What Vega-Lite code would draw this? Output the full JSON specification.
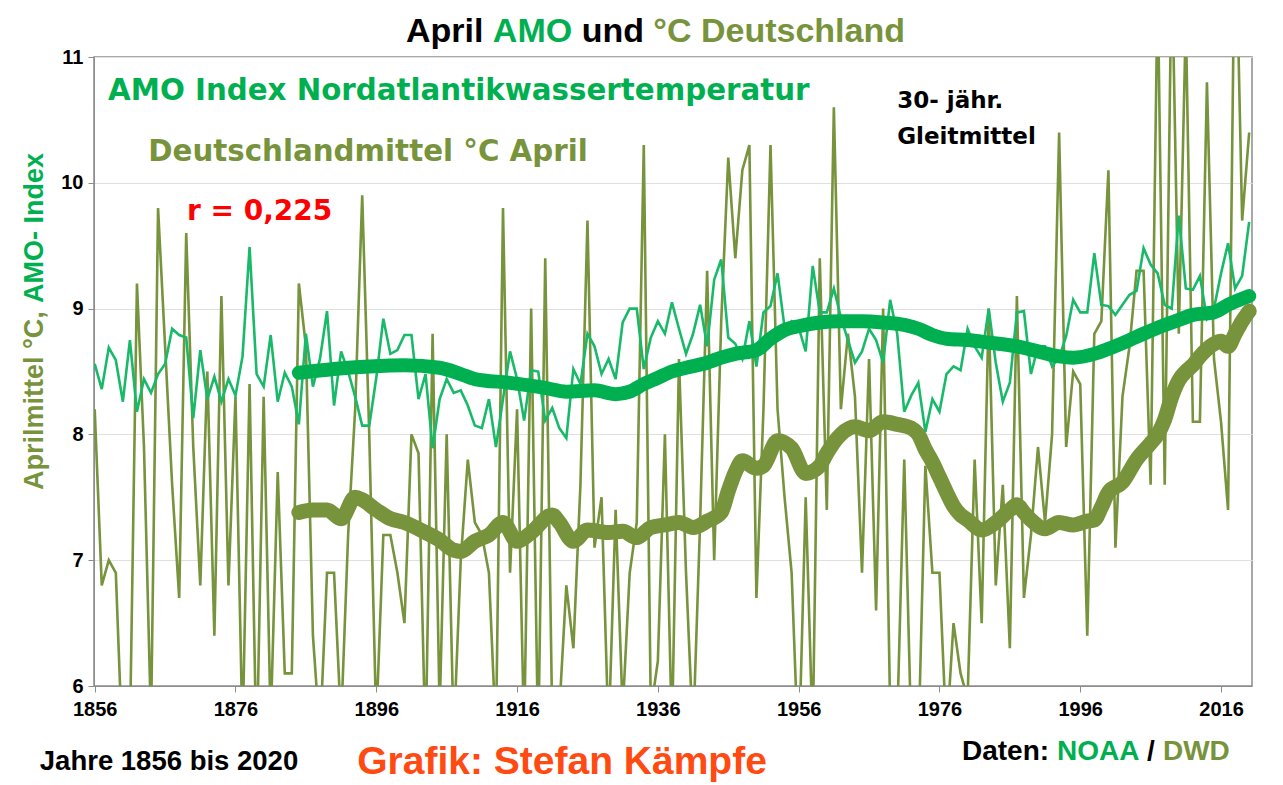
{
  "$schema": "https://vega.github.io/schema/vega-lite/v6.json",
  "width": 1158,
  "height": 629,
  "autosize": {"type": "none"},
  "padding": {"left": 94, "top": 57, "right": 31, "bottom": 99},
  "background": "white",
  "config": {
    "view": {"stroke": "#8c8c8c", "strokeWidth": 1.5},
    "font": "Liberation Sans",
    "axis": {"title": null, "domainColor": "#8c8c8c", "tickColor": "#8c8c8c", "tickSize": 6,
             "labelFont": "Liberation Sans", "labelFontWeight": "bold", "labelFontSize": 20, "labelColor": "#000000"},
    "axisX": {"grid": false, "labelPadding": 7, "labelFlush": false},
    "axisY": {"grid": true, "gridColor": "#e0e0e0", "labelPadding": 5}
  },
  "datasets": {
    "annual": [
      {"year":1856,"dwd":8.2,"amo":8.56},{"year":1857,"dwd":6.8,"amo":8.36},{"year":1858,"dwd":7.0,"amo":8.69},{"year":1859,"dwd":6.9,"amo":8.59},
      {"year":1860,"dwd":5.4,"amo":8.26},{"year":1861,"dwd":5.6,"amo":8.75},{"year":1862,"dwd":9.2,"amo":8.18},{"year":1863,"dwd":7.9,"amo":8.44},
      {"year":1864,"dwd":5.7,"amo":8.33},{"year":1865,"dwd":9.8,"amo":8.48},{"year":1866,"dwd":8.7,"amo":8.56},{"year":1867,"dwd":7.6,"amo":8.84},
      {"year":1868,"dwd":6.7,"amo":8.79},{"year":1869,"dwd":9.6,"amo":8.77},{"year":1870,"dwd":7.9,"amo":8.13},{"year":1871,"dwd":6.8,"amo":8.67},
      {"year":1872,"dwd":8.5,"amo":8.28},{"year":1873,"dwd":6.4,"amo":8.46},{"year":1874,"dwd":9.1,"amo":8.26},{"year":1875,"dwd":6.8,"amo":8.44},
      {"year":1876,"dwd":8.3,"amo":8.31},{"year":1877,"dwd":5.6,"amo":8.62},{"year":1878,"dwd":8.4,"amo":9.49},{"year":1879,"dwd":5.4,"amo":8.48},
      {"year":1880,"dwd":8.3,"amo":8.38},{"year":1881,"dwd":5.7,"amo":8.79},{"year":1882,"dwd":7.7,"amo":8.26},{"year":1883,"dwd":6.1,"amo":8.49},
      {"year":1884,"dwd":6.1,"amo":8.38},{"year":1885,"dwd":9.2,"amo":8.08},{"year":1886,"dwd":8.7,"amo":8.8},{"year":1887,"dwd":6.4,"amo":8.38},
      {"year":1888,"dwd":5.6,"amo":8.6},{"year":1889,"dwd":6.9,"amo":8.98},{"year":1890,"dwd":6.9,"amo":8.23},{"year":1891,"dwd":5.7,"amo":8.66},
      {"year":1892,"dwd":7.2,"amo":8.5},{"year":1893,"dwd":8.2,"amo":8.3},{"year":1894,"dwd":9.9,"amo":8.07},{"year":1895,"dwd":8.0,"amo":8.07},
      {"year":1896,"dwd":5.7,"amo":8.45},{"year":1897,"dwd":7.2,"amo":8.92},{"year":1898,"dwd":7.2,"amo":8.64},{"year":1899,"dwd":6.9,"amo":8.67},
      {"year":1900,"dwd":6.5,"amo":8.79},{"year":1901,"dwd":8.0,"amo":8.79},{"year":1902,"dwd":7.85,"amo":8.28},{"year":1903,"dwd":5.5,"amo":8.48},
      {"year":1904,"dwd":8.8,"amo":7.89},{"year":1905,"dwd":5.8,"amo":8.28},{"year":1906,"dwd":8.0,"amo":8.44},{"year":1907,"dwd":5.6,"amo":8.33},
      {"year":1908,"dwd":7.0,"amo":8.35},{"year":1909,"dwd":7.8,"amo":8.23},{"year":1910,"dwd":7.3,"amo":8.07},{"year":1911,"dwd":7.2,"amo":8.05},
      {"year":1912,"dwd":6.9,"amo":8.28},{"year":1913,"dwd":5.6,"amo":7.9},{"year":1914,"dwd":9.8,"amo":8.28},{"year":1915,"dwd":6.9,"amo":8.66},
      {"year":1916,"dwd":8.2,"amo":8.44},{"year":1917,"dwd":5.6,"amo":8.11},{"year":1918,"dwd":9.0,"amo":8.51},{"year":1919,"dwd":5.5,"amo":8.5},
      {"year":1920,"dwd":9.4,"amo":8.11},{"year":1921,"dwd":5.7,"amo":8.21},{"year":1922,"dwd":5.8,"amo":8.05},{"year":1923,"dwd":6.8,"amo":7.97},
      {"year":1924,"dwd":6.3,"amo":8.52},{"year":1925,"dwd":7.6,"amo":8.4},{"year":1926,"dwd":9.7,"amo":8.8},{"year":1927,"dwd":7.1,"amo":8.7},
      {"year":1928,"dwd":7.5,"amo":8.48},{"year":1929,"dwd":5.6,"amo":8.6},{"year":1930,"dwd":7.4,"amo":8.44},{"year":1931,"dwd":5.8,"amo":8.89},
      {"year":1932,"dwd":6.9,"amo":9.0},{"year":1933,"dwd":7.3,"amo":9.0},{"year":1934,"dwd":10.3,"amo":8.52},{"year":1935,"dwd":5.8,"amo":8.77},
      {"year":1936,"dwd":6.2,"amo":8.9},{"year":1937,"dwd":8.0,"amo":8.8},{"year":1938,"dwd":5.6,"amo":9.05},{"year":1939,"dwd":8.6,"amo":8.84},
      {"year":1940,"dwd":6.9,"amo":8.64},{"year":1941,"dwd":5.6,"amo":8.8},{"year":1942,"dwd":7.3,"amo":9.03},{"year":1943,"dwd":9.3,"amo":8.7},
      {"year":1944,"dwd":7.0,"amo":9.23},{"year":1945,"dwd":8.9,"amo":9.39},{"year":1946,"dwd":10.2,"amo":8.77},{"year":1947,"dwd":9.4,"amo":8.72},
      {"year":1948,"dwd":10.1,"amo":8.6},{"year":1949,"dwd":10.3,"amo":8.9},{"year":1950,"dwd":6.7,"amo":8.54},{"year":1951,"dwd":8.2,"amo":8.97},
      {"year":1952,"dwd":10.3,"amo":9.02},{"year":1953,"dwd":8.2,"amo":9.28},{"year":1954,"dwd":7.5,"amo":8.85},{"year":1955,"dwd":6.9,"amo":8.9},
      {"year":1956,"dwd":5.4,"amo":8.85},{"year":1957,"dwd":7.5,"amo":8.66},{"year":1958,"dwd":5.6,"amo":9.34},{"year":1959,"dwd":9.4,"amo":8.97},
      {"year":1960,"dwd":7.4,"amo":8.97},{"year":1961,"dwd":10.6,"amo":9.16},{"year":1962,"dwd":8.2,"amo":8.93},{"year":1963,"dwd":8.8,"amo":8.75},
      {"year":1964,"dwd":8.3,"amo":8.57},{"year":1965,"dwd":6.9,"amo":8.66},{"year":1966,"dwd":8.6,"amo":8.84},{"year":1967,"dwd":6.6,"amo":8.75},
      {"year":1968,"dwd":9.0,"amo":8.57},{"year":1969,"dwd":5.8,"amo":9.07},{"year":1970,"dwd":5.7,"amo":8.8},{"year":1971,"dwd":7.8,"amo":8.18},
      {"year":1972,"dwd":5.6,"amo":8.31},{"year":1973,"dwd":5.5,"amo":8.41},{"year":1974,"dwd":7.75,"amo":8.02},{"year":1975,"dwd":6.9,"amo":8.28},
      {"year":1976,"dwd":6.9,"amo":8.18},{"year":1977,"dwd":5.6,"amo":8.48},{"year":1978,"dwd":6.5,"amo":8.54},{"year":1979,"dwd":6.1,"amo":8.51},
      {"year":1980,"dwd":5.9,"amo":8.84},{"year":1981,"dwd":7.8,"amo":8.7},{"year":1982,"dwd":6.5,"amo":8.61},{"year":1983,"dwd":9.0,"amo":9.0},
      {"year":1984,"dwd":6.8,"amo":8.57},{"year":1985,"dwd":7.6,"amo":8.26},{"year":1986,"dwd":6.3,"amo":8.41},{"year":1987,"dwd":9.1,"amo":8.97},
      {"year":1988,"dwd":6.7,"amo":8.98},{"year":1989,"dwd":7.2,"amo":8.48},{"year":1990,"dwd":7.9,"amo":8.7},{"year":1991,"dwd":7.3,"amo":8.7},
      {"year":1992,"dwd":8.0,"amo":8.54},{"year":1993,"dwd":10.4,"amo":8.61},{"year":1994,"dwd":7.9,"amo":8.78},{"year":1995,"dwd":8.5,"amo":9.07},
      {"year":1996,"dwd":8.4,"amo":8.97},{"year":1997,"dwd":6.4,"amo":8.97},{"year":1998,"dwd":8.8,"amo":9.44},{"year":1999,"dwd":8.9,"amo":9.03},
      {"year":2000,"dwd":10.1,"amo":9.02},{"year":2001,"dwd":7.1,"amo":8.95},{"year":2002,"dwd":8.3,"amo":9.03},{"year":2003,"dwd":8.7,"amo":9.11},
      {"year":2004,"dwd":9.3,"amo":9.14},{"year":2005,"dwd":9.3,"amo":9.48},{"year":2006,"dwd":7.6,"amo":9.35},{"year":2007,"dwd":11.6,"amo":9.28},
      {"year":2008,"dwd":7.6,"amo":9.03},{"year":2009,"dwd":11.8,"amo":9.0},{"year":2010,"dwd":8.8,"amo":9.74},{"year":2011,"dwd":11.3,"amo":9.16},
      {"year":2012,"dwd":8.1,"amo":9.15},{"year":2013,"dwd":8.1,"amo":9.26},{"year":2014,"dwd":10.8,"amo":8.92},{"year":2015,"dwd":8.6,"amo":9.0},
      {"year":2016,"dwd":8.1,"amo":9.28},{"year":2017,"dwd":7.4,"amo":9.52},{"year":2018,"dwd":12.3,"amo":9.16},{"year":2019,"dwd":9.7,"amo":9.26},
      {"year":2020,"dwd":10.4,"amo":9.69}
    ],
    "maDwd": [
      {"year":1885,"v":7.38},{"year":1887,"v":7.4},{"year":1889,"v":7.4},{"year":1891,"v":7.33},{"year":1893,"v":7.5},{"year":1894,"v":7.48},
      {"year":1896,"v":7.4},{"year":1898,"v":7.33},{"year":1900,"v":7.3},{"year":1903,"v":7.22},{"year":1905,"v":7.16},{"year":1907,"v":7.08},
      {"year":1908,"v":7.07},{"year":1910,"v":7.15},{"year":1912,"v":7.2},{"year":1914,"v":7.3},{"year":1916,"v":7.15},{"year":1918,"v":7.22},
      {"year":1921,"v":7.36},{"year":1922,"v":7.3},{"year":1924,"v":7.15},{"year":1926,"v":7.24},{"year":1929,"v":7.22},{"year":1931,"v":7.23},
      {"year":1933,"v":7.18},{"year":1935,"v":7.26},{"year":1937,"v":7.28},{"year":1939,"v":7.3},{"year":1941,"v":7.26},{"year":1943,"v":7.31},
      {"year":1945,"v":7.38},{"year":1946,"v":7.55},{"year":1947,"v":7.7},{"year":1948,"v":7.79},{"year":1950,"v":7.73},{"year":1951,"v":7.75},
      {"year":1953,"v":7.95},{"year":1955,"v":7.89},{"year":1957,"v":7.69},{"year":1959,"v":7.75},{"year":1960,"v":7.85},{"year":1962,"v":8.0},
      {"year":1964,"v":8.06},{"year":1966,"v":8.03},{"year":1968,"v":8.1},{"year":1970,"v":8.08},{"year":1972,"v":8.05},{"year":1973,"v":8.0},
      {"year":1974,"v":7.88},{"year":1975,"v":7.78},{"year":1976,"v":7.66},{"year":1977,"v":7.54},{"year":1978,"v":7.43},{"year":1979,"v":7.36},
      {"year":1980,"v":7.32},{"year":1982,"v":7.24},{"year":1984,"v":7.3},{"year":1986,"v":7.4},{"year":1987,"v":7.44},{"year":1988,"v":7.38},
      {"year":1989,"v":7.32},{"year":1991,"v":7.25},{"year":1993,"v":7.3},{"year":1995,"v":7.28},{"year":1997,"v":7.31},{"year":1998,"v":7.32},
      {"year":1999,"v":7.42},{"year":2000,"v":7.54},{"year":2002,"v":7.62},{"year":2004,"v":7.8},{"year":2006,"v":7.93},{"year":2007,"v":8.0},
      {"year":2008,"v":8.12},{"year":2009,"v":8.3},{"year":2010,"v":8.43},{"year":2011,"v":8.5},{"year":2012,"v":8.55},{"year":2013,"v":8.62},
      {"year":2015,"v":8.72},{"year":2016,"v":8.74},{"year":2017,"v":8.7},{"year":2018,"v":8.8},{"year":2019,"v":8.9},{"year":2020,"v":8.98}
    ],
    "maAmo": [
      {"year":1885,"v":8.49},{"year":1890,"v":8.52},{"year":1895,"v":8.54},{"year":1900,"v":8.55},{"year":1905,"v":8.53},{"year":1908,"v":8.48},
      {"year":1910,"v":8.44},{"year":1915,"v":8.41},{"year":1920,"v":8.37},{"year":1923,"v":8.34},{"year":1927,"v":8.35},{"year":1930,"v":8.32},
      {"year":1932,"v":8.34},{"year":1934,"v":8.4},{"year":1936,"v":8.45},{"year":1938,"v":8.5},{"year":1940,"v":8.53},{"year":1943,"v":8.57},
      {"year":1945,"v":8.61},{"year":1947,"v":8.64},{"year":1950,"v":8.67},{"year":1952,"v":8.76},{"year":1954,"v":8.83},{"year":1956,"v":8.86},
      {"year":1959,"v":8.89},{"year":1962,"v":8.9},{"year":1965,"v":8.9},{"year":1968,"v":8.89},{"year":1971,"v":8.87},{"year":1973,"v":8.84},
      {"year":1975,"v":8.79},{"year":1977,"v":8.76},{"year":1980,"v":8.75},{"year":1983,"v":8.73},{"year":1987,"v":8.7},{"year":1990,"v":8.66},
      {"year":1993,"v":8.62},{"year":1995,"v":8.61},{"year":1998,"v":8.64},{"year":2000,"v":8.68},{"year":2003,"v":8.75},{"year":2005,"v":8.8},
      {"year":2008,"v":8.87},{"year":2010,"v":8.91},{"year":2012,"v":8.95},{"year":2015,"v":8.97},{"year":2017,"v":9.03},{"year":2020,"v":9.1}
    ],
    "one": [{"k": 1}]
  },
  "layer": [
    {
      "data": {"name": "annual"},
      "mark": {"type": "line", "color": "#77933c", "strokeWidth": 2.6, "clip": true},
      "encoding": {
        "x": {"field": "year", "type": "quantitative",
              "scale": {"domain": [1855.9, 2020.4], "nice": false, "zero": false},
              "axis": {"title": null, "values": [1856,1876,1896,1916,1936,1956,1976,1996,2016], "format": "d"}},
        "y": {"field": "dwd", "type": "quantitative",
              "scale": {"domain": [6, 11], "nice": false, "zero": false},
              "axis": {"title": null, "values": [6,7,8,9,10,11], "format": "d"}}
      }
    },
    {
      "data": {"name": "annual"},
      "mark": {"type": "line", "color": "#19b96a", "strokeWidth": 2.6, "clip": true},
      "encoding": {
        "x": {"field": "year", "type": "quantitative", "axis": {"title": null}},
        "y": {"field": "amo", "type": "quantitative", "axis": {"title": null}}
      }
    },
    {
      "data": {"name": "maAmo"},
      "mark": {"type": "line", "color": "#00b050", "strokeWidth": 14, "strokeCap": "round", "strokeJoin": "round", "interpolate": "monotone"},
      "encoding": {
        "x": {"field": "year", "type": "quantitative", "axis": {"title": null}},
        "y": {"field": "v", "type": "quantitative", "axis": {"title": null}}
      }
    },
    {
      "data": {"name": "maDwd"},
      "mark": {"type": "line", "color": "#77933c", "strokeWidth": 15, "strokeCap": "round", "strokeJoin": "round", "interpolate": "monotone"},
      "encoding": {
        "x": {"field": "year", "type": "quantitative", "axis": {"title": null}},
        "y": {"field": "v", "type": "quantitative", "axis": {"title": null}}
      }
    },
    {
      "data": {"name": "one"},
      "mark": {"type": "text", "text": "AMO Index Nordatlantikwassertemperatur", "font": "DejaVu Sans", "fontWeight": "bold", "fontSize": 29.3, "color": "#00b050", "align": "left", "baseline": "middle"},
      "encoding": {"x": {"datum": 1857.9, "axis": {"title": null}}, "y": {"datum": 10.73, "axis": {"title": null}}}
    },
    {
      "data": {"name": "one"},
      "mark": {"type": "text", "text": "Deutschlandmittel °C April", "font": "DejaVu Sans", "fontWeight": "bold", "fontSize": 29.3, "color": "#77933c", "align": "left", "baseline": "middle"},
      "encoding": {"x": {"datum": 1863.6, "axis": {"title": null}}, "y": {"datum": 10.245, "axis": {"title": null}}}
    },
    {
      "data": {"name": "one"},
      "mark": {"type": "text", "text": "r = 0,225", "font": "DejaVu Sans", "fontWeight": "bold", "fontSize": 28, "color": "#ff0000", "align": "left", "baseline": "middle"},
      "encoding": {"x": {"datum": 1869.1, "axis": {"title": null}}, "y": {"datum": 9.77, "axis": {"title": null}}}
    },
    {
      "data": {"name": "one"},
      "mark": {"type": "text", "text": "30- jähr.", "font": "DejaVu Sans", "fontWeight": "bold", "fontSize": 23, "color": "#000000", "align": "left", "baseline": "middle"},
      "encoding": {"x": {"datum": 1970.0, "axis": {"title": null}}, "y": {"datum": 10.65, "axis": {"title": null}}}
    },
    {
      "data": {"name": "one"},
      "mark": {"type": "text", "text": "Gleitmittel", "font": "DejaVu Sans", "fontWeight": "bold", "fontSize": 23, "color": "#000000", "align": "left", "baseline": "middle"},
      "encoding": {"x": {"datum": 1970.0, "axis": {"title": null}}, "y": {"datum": 10.364, "axis": {"title": null}}}
    },
    {
      "data": {"name": "one"},
      "mark": {"type": "text", "text": "April", "font": "Liberation Sans", "fontWeight": "bold", "fontSize": 34, "color": "#000000", "align": "left", "baseline": "middle"},
      "encoding": {"x": {"datum": 1900.22, "axis": {"title": null}}, "y": {"datum": 11.2, "axis": {"title": null}}}
    },
    {
      "data": {"name": "one"},
      "mark": {"type": "text", "text": "AMO", "font": "Liberation Sans", "fontWeight": "bold", "fontSize": 34, "color": "#00b050", "align": "left", "baseline": "middle"},
      "encoding": {"x": {"datum": 1912.56, "axis": {"title": null}}, "y": {"datum": 11.2, "axis": {"title": null}}}
    },
    {
      "data": {"name": "one"},
      "mark": {"type": "text", "text": "und", "font": "Liberation Sans", "fontWeight": "bold", "fontSize": 34, "color": "#000000", "align": "left", "baseline": "middle"},
      "encoding": {"x": {"datum": 1925.18, "axis": {"title": null}}, "y": {"datum": 11.2, "axis": {"title": null}}}
    },
    {
      "data": {"name": "one"},
      "mark": {"type": "text", "text": "°C Deutschland", "font": "Liberation Sans", "fontWeight": "bold", "fontSize": 34, "color": "#77933c", "align": "left", "baseline": "middle"},
      "encoding": {"x": {"datum": 1935.36, "axis": {"title": null}}, "y": {"datum": 11.2, "axis": {"title": null}}}
    },
    {
      "data": {"name": "one"},
      "mark": {"type": "text", "text": "Aprilmittel °C,", "font": "Liberation Sans", "fontWeight": "bold", "fontSize": 27, "color": "#77933c", "align": "left", "baseline": "middle", "angle": 270},
      "encoding": {"x": {"datum": 1847.5, "axis": {"title": null}}, "y": {"datum": 7.558, "axis": {"title": null}}}
    },
    {
      "data": {"name": "one"},
      "mark": {"type": "text", "text": "AMO- Index", "font": "Liberation Sans", "fontWeight": "bold", "fontSize": 27, "color": "#00b050", "align": "left", "baseline": "middle", "angle": 270},
      "encoding": {"x": {"datum": 1847.5, "axis": {"title": null}}, "y": {"datum": 9.044, "axis": {"title": null}}}
    },
    {
      "data": {"name": "one"},
      "mark": {"type": "text", "text": "Jahre 1856 bis 2020", "font": "Liberation Sans", "fontWeight": "bold", "fontSize": 27.5, "color": "#000000", "align": "left", "baseline": "middle"},
      "encoding": {"x": {"datum": 1848.2, "axis": {"title": null}}, "y": {"datum": 5.396, "axis": {"title": null}}}
    },
    {
      "data": {"name": "one"},
      "mark": {"type": "text", "text": "Grafik: Stefan Kämpfe", "font": "Liberation Sans", "fontWeight": "bold", "fontSize": 39, "color": "#ff4a12", "align": "left", "baseline": "middle"},
      "encoding": {"x": {"datum": 1893.3, "axis": {"title": null}}, "y": {"datum": 5.396, "axis": {"title": null}}}
    },
    {
      "data": {"name": "one"},
      "mark": {"type": "text", "text": "Daten:", "font": "Liberation Sans", "fontWeight": "bold", "fontSize": 28, "color": "#000000", "align": "left", "baseline": "middle"},
      "encoding": {"x": {"datum": 1979.2, "axis": {"title": null}}, "y": {"datum": 5.475, "axis": {"title": null}}}
    },
    {
      "data": {"name": "one"},
      "mark": {"type": "text", "text": "NOAA", "font": "Liberation Sans", "fontWeight": "bold", "fontSize": 28, "color": "#00b050", "align": "left", "baseline": "middle"},
      "encoding": {"x": {"datum": 1992.69, "axis": {"title": null}}, "y": {"datum": 5.475, "axis": {"title": null}}}
    },
    {
      "data": {"name": "one"},
      "mark": {"type": "text", "text": "/", "font": "Liberation Sans", "fontWeight": "bold", "fontSize": 28, "color": "#000000", "align": "left", "baseline": "middle"},
      "encoding": {"x": {"datum": 2005.47, "axis": {"title": null}}, "y": {"datum": 5.475, "axis": {"title": null}}}
    },
    {
      "data": {"name": "one"},
      "mark": {"type": "text", "text": "DWD", "font": "Liberation Sans", "fontWeight": "bold", "fontSize": 28, "color": "#77933c", "align": "left", "baseline": "middle"},
      "encoding": {"x": {"datum": 2007.75, "axis": {"title": null}}, "y": {"datum": 5.475, "axis": {"title": null}}}
    }
  ]
}
